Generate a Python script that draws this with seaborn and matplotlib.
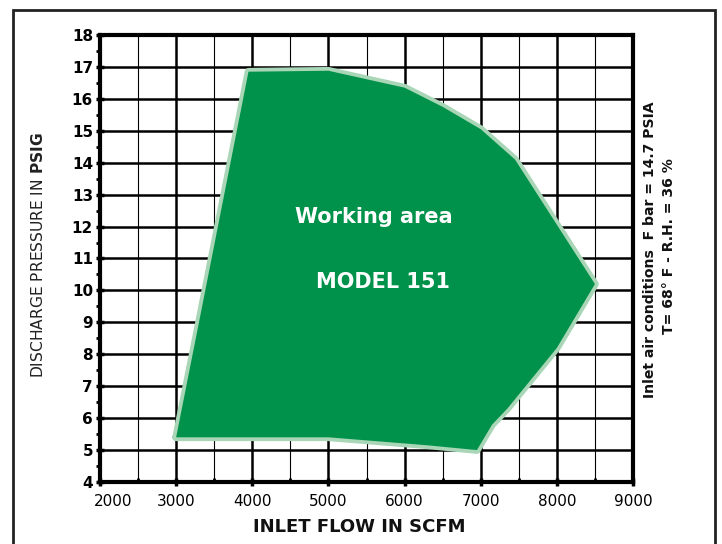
import matplotlib
matplotlib.use("Agg")
import matplotlib.pyplot as plt
import matplotlib.transforms as mtransforms
import seaborn as sns
import numpy as np
import pandas as pd
from matplotlib.patches import Rectangle
from matplotlib.ticker import MultipleLocator

# ---- data ----
flow_scfm = [3000, 3300, 3950, 5000, 6000, 6500, 7000, 7450, 8500, 8000, 7350, 7150, 6950, 6300, 5000, 3000]
pressure_psig = [5.4, 9.0, 16.85, 16.88, 16.35, 15.75, 15.05, 14.1, 10.2, 8.2, 6.3, 5.8, 5.0, 5.15, 5.4, 5.4]
x_ticks = [2000, 3000, 4000, 5000, 6000, 7000, 8000, 9000]
y_ticks = list(range(4, 19))
area_label = "Working area"
model_label = "MODEL 151"
x_title = "INLET FLOW IN SCFM"
y_title = r"DISCHARGE PRESSURE IN $\mathbf{PSIG}$"
cond_line1 = "Inlet air conditions  F bar = 14.7 PSIA"
cond_line2 = "T= 68° F - R.H. = 36 %"

df = pd.DataFrame({"flow": flow_scfm, "pressure": pressure_psig})

sns.set_theme(style="white")
plt.rcParams["font.family"] = ["DejaVu Sans"]
plt.rcParams["mathtext.fontset"] = "custom"
plt.rcParams["mathtext.bf"] = "DejaVu Sans:bold"
plt.rcParams["mathtext.rm"] = "DejaVu Sans"
plt.rcParams["text.color"] = "black"
plt.rcParams["xtick.color"] = "black"
plt.rcParams["ytick.color"] = "black"
plt.rcParams["xtick.labelcolor"] = "black"
plt.rcParams["ytick.labelcolor"] = "black"

fig = plt.figure(figsize=(7.22, 5.44), dpi=100)
ax = fig.add_axes([100/722, 1-482/544, (633-100)/722, (482-35)/544])

ax.set_xlim(2000, 9000)
ax.set_ylim(4, 18)
ax.xaxis.set_major_locator(MultipleLocator(1000))
ax.xaxis.set_minor_locator(MultipleLocator(500))
ax.yaxis.set_major_locator(MultipleLocator(1))
ax.yaxis.set_minor_locator(MultipleLocator(0.5))
ax.set_xticks(x_ticks)
ax.set_yticks(y_ticks)

ax.grid(which="major", color="black", linewidth=1.8, zorder=0)
ax.grid(which="minor", axis="x", color="black", linewidth=0.8, zorder=0)
ax.set_axisbelow(True)

# outline then fill
sns.lineplot(data=df, x="flow", y="pressure", sort=False, estimator=None,
             color="#a9d6b6", linewidth=5.5, ax=ax, zorder=4)
ax.fill(df["flow"], df["pressure"], color="#00924a", zorder=5, linewidth=0)

for s in ax.spines.values():
    s.set_linewidth(3)
    s.set_color("black")
    s.set_visible(True)

ax.tick_params(axis="y", which="major", left=True, direction="inout", length=6, width=2.5,
               labelsize=11, pad=2, colors="black")
ax.tick_params(axis="y", which="minor", left=True, direction="out", length=3, width=2,
               colors="black")
ax.tick_params(axis="x", which="major", bottom=True, direction="inout", length=6, width=2.5,
               labelsize=11, pad=6, colors="black")
ax.tick_params(axis="x", which="minor", bottom=True, direction="in", length=3, width=2,
               colors="black")
for lab in ax.get_yticklabels():
    lab.set_fontweight("heavy")

# first x label sits slightly right of its tick, as in the reference
first_tick = ax.xaxis.get_major_ticks()[0]
first_tick.label1.set_transform(first_tick.label1.get_transform() +
                                mtransforms.ScaledTranslation(13/100, 0, fig.dpi_scale_trans))

ax.set_xlabel("")
ax.set_ylabel("")

fig.text(359/722, 1-527/544, x_title, ha="center", va="center",
         fontsize=13, fontweight="bold", color="#111111")

fig.text(38/722, 1-255/544, y_title, rotation=90, ha="center", va="center",
         fontsize=11.2, color="#222222")

fig.text(650/722, 1-250/544, cond_line1, rotation=90, ha="center", va="center",
         fontsize=10.1, fontweight="bold", color="#111111")
fig.text(669/722, 1-246/544, cond_line2, rotation=90, ha="center", va="center",
         fontsize=10.1, fontweight="bold", color="#111111")

ax.text(5600, 12.3, area_label, ha="center", va="center", color="white",
        fontsize=15, fontweight="bold", zorder=6)
ax.text(5720, 10.25, model_label, ha="center", va="center", color="white",
        fontsize=15, fontweight="bold", zorder=6)

fig.patches.append(Rectangle((13/722, -0.05), (715-13)/722, 1.05-10/544,
                             transform=fig.transFigure, fill=False, edgecolor="#222222",
                             linewidth=2))

fig.savefig("out.png", dpi=100)
